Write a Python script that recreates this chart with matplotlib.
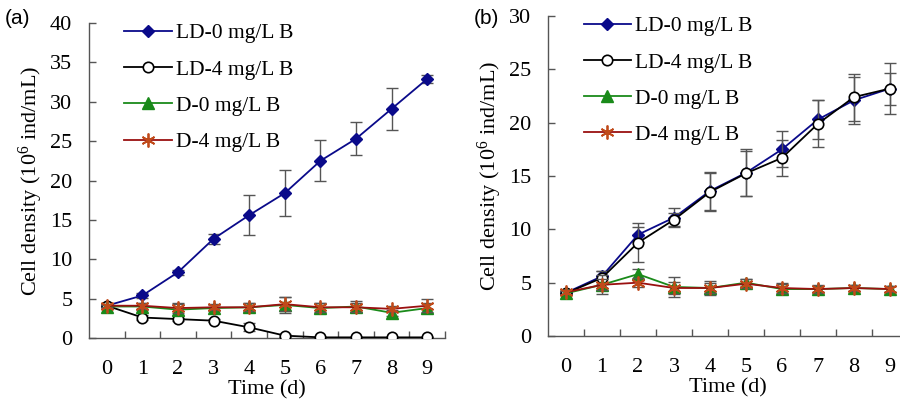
import matplotlib
matplotlib.use("Agg")
import matplotlib.pyplot as plt
from matplotlib.lines import Line2D
import numpy as np

plt.rcParams['font.family'] = ['Liberation Serif', 'DejaVu Serif']
plt.rcParams['mathtext.fontset'] = 'custom'
plt.rcParams['mathtext.rm'] = 'Liberation Serif'
plt.rcParams['mathtext.it'] = 'Liberation Serif:italic'

days = [0, 1, 2, 3, 4, 5, 6, 7, 8, 9]
labels = ["LD-0 mg/L B", "LD-4 mg/L B", "D-0 mg/L B", "D-4 mg/L B"]

# Panel (a)
a_ld0 = [4.1, 5.4, 8.35, 12.6, 15.6, 18.4, 22.5, 25.3, 29.1, 32.9]
a_ld0_err = [0.2, 0.3, 0.3, 0.6, 2.5, 2.9, 2.6, 2.1, 2.7, 0.5]
a_ld4 = [4.1, 2.6, 2.4, 2.2, 1.35, 0.3, 0.08, 0.08, 0.08, 0.08]
a_ld4_err = [0.2, 0.3, 0.2, 0.2, 0.5, 0.2, 0.0, 0.0, 0.0, 0.0]
a_d0 = [4.0, 4.0, 3.6, 3.8, 3.9, 4.2, 3.8, 4.0, 3.2, 3.8]
a_d0_err = [0.2, 0.5, 0.7, 0.4, 0.6, 1.0, 0.6, 0.7, 0.4, 0.6]
a_d4 = [4.1, 4.1, 3.8, 3.9, 3.9, 4.3, 3.9, 3.9, 3.7, 4.1]
a_d4_err = [0.2, 0.4, 0.6, 0.4, 0.5, 0.9, 0.6, 0.6, 0.4, 0.8]

# Panel (b)
b_ld0 = [4.05, 5.6, 9.5, 11.1, 13.6, 15.3, 17.5, 20.3, 22.1, 23.2]
b_ld0_err = [0.2, 0.5, 0.7, 0.9, 1.8, 2.2, 1.7, 1.8, 2.2, 1.5]
b_ld4 = [4.0, 5.45, 8.75, 10.9, 13.5, 15.25, 16.7, 19.9, 22.4, 23.2]
b_ld4_err = [0.2, 0.6, 1.8, 0.6, 1.8, 2.1, 1.7, 2.2, 2.2, 2.4]
b_d0 = [4.0, 4.8, 5.8, 4.6, 4.5, 5.0, 4.4, 4.4, 4.5, 4.4]
b_d0_err = [0.2, 0.9, 0.5, 0.9, 0.7, 0.3, 0.5, 0.3, 0.3, 0.3]
b_d4 = [4.1, 4.8, 5.0, 4.5, 4.5, 4.9, 4.5, 4.4, 4.5, 4.4]
b_d4_err = [0.2, 0.5, 0.4, 0.6, 0.5, 0.4, 0.5, 0.4, 0.3, 0.3]

styles = [
    dict(color='#0a0a8a', marker='D', ms=6.5, mfc='#0a0a8a', mec='#0a0a8a'),
    dict(color='#000000', marker='o', ms=7.5, mfc='white', mec='#000000', mew=1.2),
    dict(color='#1a8a1a', marker='^', ms=8, mfc='#1a8a1a', mec='#1a8a1a'),
    dict(color='#9a1010', marker=(6, 2, 0), ms=10, mfc='#c04a1a', mec='#c04a1a', mew=1.3),
]

fig = plt.figure(figsize=(9.0, 4.07), dpi=100)
axA = fig.add_axes([89/900, 1-338/407, 356/900, 315/407])
axB = fig.add_axes([548/900, 1-336/407, 360/900, 320/407])

def draw(ax, series, errs, ymax, legx, legy):
    for i, (ys, es) in enumerate(zip(series, errs)):
        st = styles[i]
        ax.errorbar(days, ys, yerr=es, fmt='none', ecolor='#555555',
                    elinewidth=1.0, capsize=4.5, capthick=1.0, zorder=2 + i)
        ax.plot(days, ys, color=st['color'], lw=1.3, marker=st['marker'],
                ms=st['ms'], mfc=st['mfc'], mec=st['mec'],
                mew=st.get('mew', 1.0), zorder=3 + i)
    ax.set_xlim(-0.5, 9.5)
    ax.set_ylim(0, ymax)
    ax.set_yticks(np.arange(0, ymax + 1, 5))
    ax.set_xticks(days)
    ax.set_xticks(np.arange(0.5, 10, 1), minor=True)
    ax.tick_params(axis='x', which='major', length=0, pad=16, labelsize=16)
    ax.tick_params(axis='x', which='minor', direction='in', length=5, width=1, color='#555555')
    ax.tick_params(axis='y', direction='in', length=5, width=1, color='#555555', pad=12, labelsize=16)
    for s in ['top', 'right']:
        ax.spines[s].set_visible(False)
    for s in ['left', 'bottom']:
        ax.spines[s].set_color('#555555')
        ax.spines[s].set_linewidth(1.0)
    ax.set_xlabel('Time (d)', fontsize=16, labelpad=1)
    ax.set_ylabel('Cell density (10$^{6}$ ind/mL)', fontsize=16, labelpad=4)
    handles = [Line2D([], [], color=st['color'], lw=1.3, marker=st['marker'],
                      ms=st['ms'], mfc=st['mfc'], mec=st['mec'], mew=st.get('mew', 1.0))
               for st in styles]
    ax.legend(handles, labels, loc='upper left', bbox_to_anchor=(legx, legy),
              frameon=False, fontsize=15.5, handlelength=2.2, handletextpad=0.2,
              labelspacing=0.75, borderaxespad=0)

draw(axA, [a_ld0, a_ld4, a_d0, a_d4], [a_ld0_err, a_ld4_err, a_d0_err, a_d4_err], 40, 0.075, 1.026)
draw(axB, [b_ld0, b_ld4, b_d0, b_d4], [b_ld0_err, b_ld4_err, b_d0_err, b_d4_err], 30, 0.075, 1.026)

fig.text(5/900, 1-18/407, '(a)', fontsize=15, family=['Liberation Sans'], va='center', ha='left')
fig.text(474/900, 1-18/407, '(b)', fontsize=15, family=['Liberation Sans'], va='center', ha='left')

fig.savefig('out.png', dpi=100)
